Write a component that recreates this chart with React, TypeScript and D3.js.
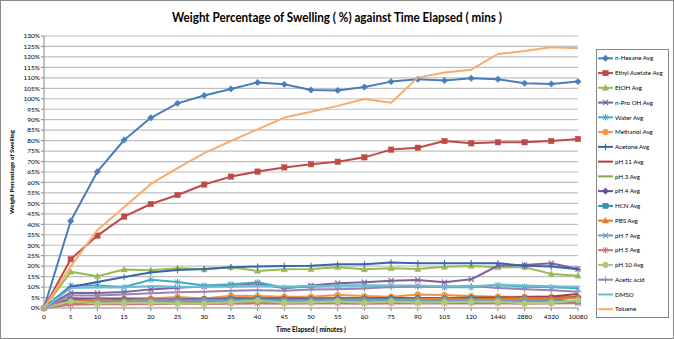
import React from "react";
import * as d3 from "d3";

const categories = ["0","5","10","15","20","25","30","35","40","45","50","55","60","75","90","105","120","1440","2880","4320","10080"];
const yTicks = d3.range(0, 131, 5);

const nHexane = [0, 41.6, 65.2, 80.3, 90.9, 97.8, 101.6, 104.7, 107.8, 106.9, 104.2, 104.0, 105.6, 108.2, 109.3, 108.7, 109.8, 109.3, 107.4, 107.1, 108.2];
const ethylAcetate = [0, 23.3, 34.6, 43.7, 49.7, 54.0, 59.0, 62.8, 65.2, 67.2, 68.7, 69.9, 72.0, 75.7, 76.6, 79.8, 78.7, 79.2, 79.2, 79.8, 80.8];
const etoh = [0, 17.3, 15.2, 18.4, 18.1, 19.0, 18.5, 19.5, 17.7, 18.5, 18.6, 19.5, 18.5, 19.0, 18.6, 19.7, 20.1, 19.5, 19.5, 16.3, 15.4];
const nProOH = [0, 7.3, 7.2, 7.6, 8.9, 9.7, 10.3, 11.0, 11.8, 9.4, 10.7, 11.8, 12.3, 13.0, 13.4, 12.3, 13.7, 20.2, 20.6, 21.4, 18.6];
const water = [0, 10.8, 10.8, 10.0, 13.5, 12.4, 10.8, 11.3, 12.3, 9.7, 10.2, 10.8, 10.8, 10.5, 10.5, 9.9, 9.9, 11.0, 10.2, 9.9, 9.4];
const methanol = [0, 4.0, 4.8, 4.5, 4.5, 5.3, 4.5, 5.9, 5.7, 5.4, 5.4, 6.2, 5.7, 5.4, 6.5, 6.2, 5.7, 5.4, 5.4, 5.4, 5.2];
const acetone = [0, 10.0, 12.4, 14.8, 17.0, 18.2, 18.6, 19.5, 19.8, 20.1, 20.2, 20.9, 20.9, 21.8, 21.4, 21.4, 21.4, 21.4, 20.2, 19.8, 18.5];
const pH11 = [0, 3.7, 4.3, 4.0, 3.9, 3.8, 4.0, 4.5, 4.4, 4.5, 4.4, 4.6, 4.6, 4.7, 4.8, 4.8, 5.0, 5.0, 5.2, 5.5, 6.7];
const pH3 = [0, 2.2, 2.5, 2.4, 2.6, 2.5, 2.4, 2.6, 2.8, 2.5, 2.6, 2.7, 2.6, 2.7, 2.8, 3.0, 2.9, 3.0, 3.2, 3.5, 5.8];
const pH4 = [0, 4.5, 4.2, 4.3, 4.1, 4.2, 4.3, 4.5, 4.6, 4.5, 4.4, 4.7, 4.6, 4.8, 4.8, 4.7, 4.8, 4.6, 4.9, 4.8, 5.0];
const hcn = [0, 3.0, 3.3, 3.4, 3.6, 3.8, 3.9, 4.1, 4.2, 3.9, 4.0, 4.3, 4.2, 4.2, 4.5, 4.3, 4.4, 4.2, 4.1, 4.0, 3.2];
const pbs = [0, 3.5, 3.9, 3.6, 4.2, 3.5, 3.9, 3.7, 4.0, 3.6, 3.8, 4.1, 3.9, 3.8, 4.2, 4.6, 4.0, 4.4, 4.8, 4.5, 4.9];
const pH7 = [0, 2.8, 3.0, 3.1, 3.3, 3.2, 3.4, 3.3, 3.5, 3.4, 3.3, 3.6, 3.5, 3.5, 3.6, 3.7, 3.5, 3.8, 3.8, 3.6, 2.5];
const pH5 = [0, 1.6, 1.8, 1.8, 1.9, 2.0, 1.9, 2.0, 2.1, 2.0, 2.2, 2.1, 2.0, 2.1, 2.2, 2.1, 2.2, 2.2, 2.0, 2.1, 2.3];
const pH10 = [0, 3.2, 2.1, 2.4, 2.5, 2.1, 2.1, 2.7, 3.5, 2.5, 2.7, 3.1, 2.5, 3.1, 2.6, 2.8, 3.0, 3.0, 2.2, 2.5, 3.8];
const aceticAcid = [0, 6.0, 6.0, 6.4, 7.0, 7.5, 7.8, 8.2, 8.5, 8.3, 8.8, 9.0, 9.3, 10.0, 10.2, 10.3, 10.5, 9.5, 9.0, 8.5, 7.8];
const dmso = [0, 9.5, 9.8, 9.8, 10.5, 10.2, 10.0, 10.3, 10.5, 10.3, 10.5, 10.6, 10.8, 10.8, 10.8, 10.3, 10.3, 11.2, 10.8, 10.4, 10.2];
const toluene = [0, 19.8, 37.3, 48.1, 59.3, 66.8, 74.0, 79.8, 85.4, 91.0, 93.8, 96.6, 99.9, 98.1, 110.1, 112.6, 113.9, 121.4, 122.8, 124.6, 124.1];

const seriesNames = ["n-Hexane Avg","Ethyl Acetate Avg","EtOH Avg","n-Pro OH Avg","Water Avg","Methanol Avg","Acetone Avg","pH 11 Avg","pH 3 Avg","pH 4 Avg","HCN Avg","PBS Avg","pH 7 Avg","pH 5 Avg","pH 10 Avg","Acetic acid","DMSO","Toluene"];
const seriesValues = [nHexane, ethylAcetate, etoh, nProOH, water, methanol, acetone, pH11, pH3, pH4, hcn, pbs, pH7, pH5, pH10, aceticAcid, dmso, toluene];
const seriesColors = ["#4A7EBB","#BE4B48","#98B954","#7D60A0","#46AAC5","#F69240","#3866A8","#A8403D","#86A84A","#6A4F8E","#3595B0","#E07E2E","#729ACA","#CD7371","#AFC97A","#9983B5","#6FBDD1","#F9AB6B"];
const seriesMarkers = ["diamond","square","triangle","x","star","circle","plus","none","none","diamond","square","triangle","x","star","circle","plus","none","none"];

const W = 674, H = 339;
const PL = 44, PR = 578, PT = 36, PB = 308;
const FONT = "Lato, 'Open Sans', sans-serif";

function Marker({ type, x, y, color }: { type: string; x: number; y: number; color: string }) {
  const s = 2.6;
  switch (type) {
    case "diamond":
      return <path d={`M${x},${y - 3.2}L${x + 3.2},${y}L${x},${y + 3.2}L${x - 3.2},${y}Z`} fill={color} stroke={color} strokeWidth={0.5} />;
    case "square":
      return <rect x={x - 2.7} y={y - 2.7} width={5.4} height={5.4} fill={color} stroke={color} strokeWidth={0.5} />;
    case "triangle":
      return <path d={`M${x},${y - 3.2}L${x + 3.1},${y + 2.4}L${x - 3.1},${y + 2.4}Z`} fill={color} stroke={color} strokeWidth={0.5} />;
    case "circle":
      return <circle cx={x} cy={y} r={2.9} fill={color} stroke={color} strokeWidth={0.5} />;
    case "x":
      return <path d={`M${x - s},${y - s}L${x + s},${y + s}M${x - s},${y + s}L${x + s},${y - s}`} stroke={color} strokeWidth={1.1} fill="none" />;
    case "star":
      return <path d={`M${x - s},${y - s}L${x + s},${y + s}M${x - s},${y + s}L${x + s},${y - s}M${x},${y - 3.2}L${x},${y + 3.2}`} stroke={color} strokeWidth={1} fill="none" />;
    case "plus":
      return <path d={`M${x - 3.2},${y}L${x + 3.2},${y}M${x},${y - 3.2}L${x},${y + 3.2}`} stroke={color} strokeWidth={1} fill="none" />;
    default:
      return null;
  }
}

export default function App() {
  const x = d3.scalePoint<string>().domain(categories).range([PL, PR]).padding(0);
  const y = d3.scaleLinear().domain([0, 130]).range([PB, PT]);
  const line = d3.line<number>().x((_, i) => x(categories[i]) as number).y((d) => y(d));

  const legendTop = 58.3, legendStep = 14.76;

  return (
    <svg width={W} height={H} style={{ position: "fixed", left: 0, top: 0, background: "#fff" }} fontFamily={FONT}>
      <rect x={0.5} y={0.5} width={W - 1} height={H - 1} fill="#fff" stroke="#8a8a8a" strokeWidth={1} />
      <text x={337} y={22} textAnchor="middle" fontSize={12.5} fontWeight="bold" fill="#000" textLength={330} lengthAdjust="spacingAndGlyphs">
        Weight Percentage of Swelling ( %) against Time Elapsed ( mins )
      </text>

      {yTicks.filter((t) => t > 0).map((t) => (
        <line key={"g" + t} x1={PL} x2={PR} y1={y(t)} y2={y(t)} stroke="#BFBFBF" strokeWidth={1.2} />
      ))}

      <line x1={PL} x2={PL} y1={PT} y2={PB} stroke="#868686" strokeWidth={1} />
      <line x1={PL} x2={PR} y1={PB} y2={PB} stroke="#868686" strokeWidth={1} />
      {yTicks.map((t) => (
        <g key={"yt" + t}>
          <line x1={PL - 3} x2={PL} y1={y(t)} y2={y(t)} stroke="#868686" />
          <text x={PL - 4} y={y(t)} dy="0.35em" textAnchor="end" fontSize={6.5} fill="#000">{t}%</text>
        </g>
      ))}
      {categories.map((c) => (
        <g key={"xt" + c}>
          <line x1={x(c)} x2={x(c)} y1={PB} y2={PB + 3} stroke="#868686" />
          <text x={x(c)} y={PB + 11} textAnchor="middle" fontSize={6.5} fill="#000">{c}</text>
        </g>
      ))}

      <text transform={`translate(14,${(PT + PB) / 2}) rotate(-90)`} textAnchor="middle" fontSize={6.2} fontWeight="bold" fill="#000">
        Weight Percentage of Swelling
      </text>
      <text x={(PL + PR) / 2} y={332} textAnchor="middle" fontSize={6.5} fontWeight="bold" fill="#000">
        Time Elapsed ( minutes )
      </text>

      {seriesValues.map((vals, si) => (
        <g key={"s" + si}>
          <path d={line(vals) as string} fill="none" stroke={seriesColors[si]} strokeWidth={2} strokeLinejoin="round" />
          {vals.map((v, i) => (
            <Marker key={i} type={seriesMarkers[si]} x={x(categories[i]) as number} y={y(v)} color={seriesColors[si]} />
          ))}
        </g>
      ))}

      <rect x={596.5} y={49.5} width={72} height={268} fill="#fff" stroke="#868686" strokeWidth={1} />
      {seriesNames.map((n, i) => {
        const ly = legendTop + i * legendStep;
        return (
          <g key={"l" + i}>
            <line x1={598} x2={613} y1={ly} y2={ly} stroke={seriesColors[i]} strokeWidth={2} />
            <Marker type={seriesMarkers[i]} x={605.5} y={ly} color={seriesColors[i]} />
            <text x={615} y={ly} dy="0.35em" fontSize={6.2} fill="#000">{n}</text>
          </g>
        );
      })}
    </svg>
  );
}
